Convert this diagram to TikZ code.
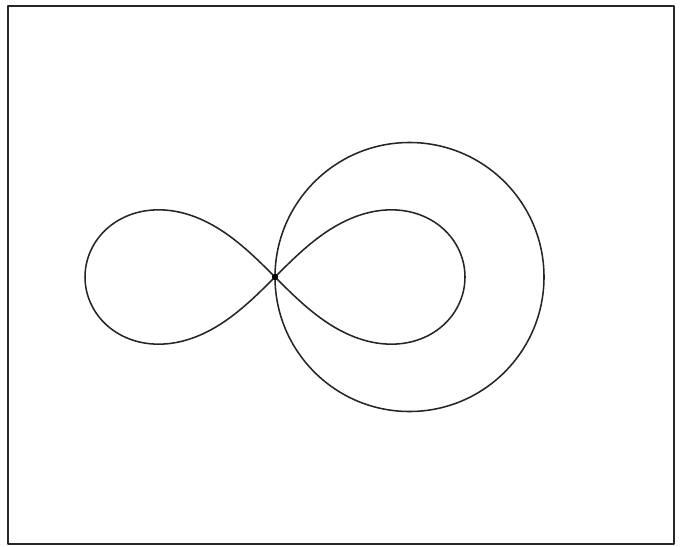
\documentclass[tikz,border=0pt]{standalone}
\usepackage{tikz}

\begin{document}
\begin{tikzpicture}[line join=round]

% =====================================================================
% Frame  (1 px of the figure = 0.025 cm, origin at the double point)
% =====================================================================
\useasboundingbox (-6.875,-6.725) rectangle (10.225,6.925);
\draw[line width=1.6pt, black!85] (-6.675,-6.675) rectangle (9.975,6.775);

\coordinate (O) at (0,0);
\coordinate (C) at (3.3625,0);

% =====================================================================
% Lemniscate of Bernoulli, a = 4.75 cm
% =====================================================================
\draw[line width=1.1pt, black!85, smooth, samples=240, domain=0:360, variable=\t]
  plot ({4.75*cos(\t)/(1+sin(\t)^2)}, {4.75*sin(\t)*cos(\t)/(1+sin(\t)^2)});

% =====================================================================
% Circle through the double point
% =====================================================================
\draw[line width=1.1pt, black!85] (C) circle[radius=3.3625cm];

% double point
\fill[black] (O) circle[radius=0.08cm];

\end{tikzpicture}
\end{document}
